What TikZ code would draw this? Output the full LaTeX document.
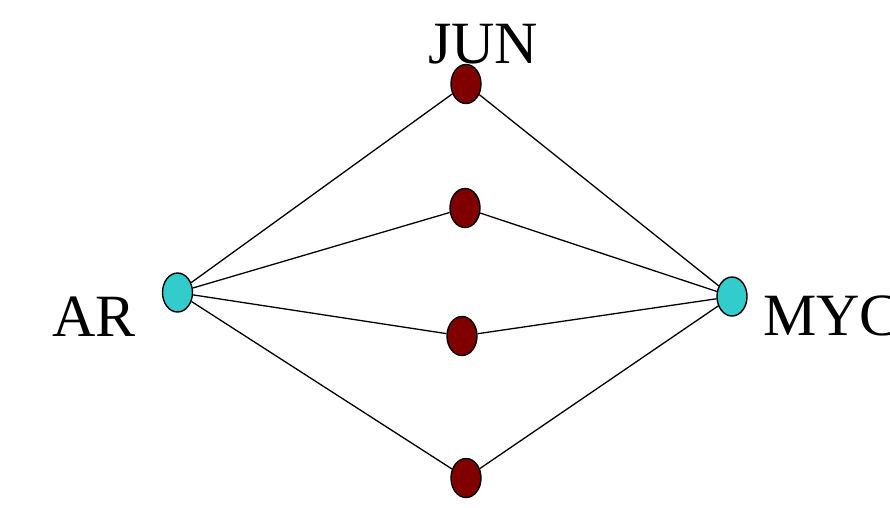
\documentclass[tikz,border=0pt]{standalone}
\usepackage{fontspec}
\setmainfont{Liberation Serif}
\usetikzlibrary{shapes.geometric}
\definecolor{tfcyan}{HTML}{33CCCC}
\definecolor{tfred}{HTML}{800000}
\begin{document}
\begin{tikzpicture}[x=1pt,y=-1pt,
  hub/.style={ellipse,draw=black,line width=1.4pt,fill=tfcyan,minimum width=30pt,minimum height=39pt,inner sep=0pt},
  mid/.style={ellipse,draw=black,line width=1.4pt,fill=tfred,minimum width=30pt,minimum height=39pt,inner sep=0pt},
  edge/.style={draw=black,line width=1.3pt},
  lbl/.style={font=\fontsize{60}{60}\selectfont,inner sep=0pt}]
\useasboundingbox (0,0) rectangle (890,507);
\node[hub] (ar) at (177.5,292.5) {};
\node[hub] (myc) at (732,296.5) {};
\node[mid] (r1) at (466,84) {};
\node[mid] (r2) at (465,208) {};
\node[mid] (r3) at (462,336) {};
\node[mid] (r4) at (466,478) {};
\foreach \r in {r1,r2,r3,r4} {
  \draw[edge] (ar) -- (\r);
  \draw[edge] (\r) -- (myc);
}
\node[lbl,anchor=base] (jun) at (483,63) {JUN};
\node[lbl,anchor=base west] (arl) at (52,336) {AR};
\node[lbl,anchor=base west] (mycl) at (763,335) {MYC};
\end{tikzpicture}
\end{document}
